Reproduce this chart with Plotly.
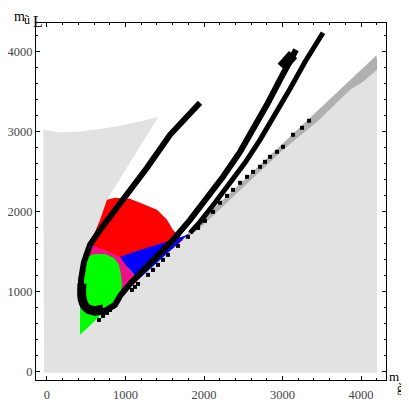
import plotly.graph_objects as go

# allowed region (light grey) outline, gluino mass vs left squark mass
gray_x = [-38, -47, 166, 420, 675, 930, 1185, 1418, 764, 586, 548, 446, 420, 420, 4191, 4204, 4204]
gray_y = [-12, 3021, 2988, 3000, 3030, 3071, 3125, 3180, 2146, 1684, 1584, 1421, 896, 459, 3946, 3946, -12]

# darker grey band along the diagonal edge
band_x = [1796, 4191, 4204, 4204, 4026, 3860, 3440, 3007, 1949, 1796]
band_y = [1734, 3946, 3896, 3771, 3621, 3521, 3121, 2771, 1796, 1696]

red_x = [764, 866, 1057, 1185, 1401, 1529, 1605, 1694, 1733, 1185, 548, 586, 675]
red_y = [2146, 2171, 2159, 2109, 2021, 1896, 1771, 1684, 1646, 1209, 1584, 1684, 1896]

pink_x = [497, 548, 739, 930, 1019, 1095, 1159, 879, 675, 471]
pink_y = [1496, 1584, 1521, 1434, 1309, 1234, 1146, 884, 1021, 1371]

blue_x = [930, 1185, 1401, 1605, 1783, 1822, 1159, 1095, 1019]
blue_y = [1434, 1521, 1584, 1646, 1709, 1734, 1146, 1234, 1309]

green_x = [446, 510, 611, 739, 854, 917, 943, 955, 930, 420, 420]
green_y = [1371, 1434, 1471, 1471, 1421, 1334, 1209, 1084, 934, 459, 896]

# black contours
u_x = [1949, 1758, 1567, 1274, 1057, 866, 675, 548, 471, 433, 433, 459, 522, 611, 739, 866, 930,
       1057, 1185, 1401, 1605, 1822, 2038, 2242, 2459, 2650, 2815, 2968, 3096, 3172]
u_y = [3359, 3171, 2959, 2546, 2271, 2021, 1771, 1584, 1371, 1146, 959, 834, 759, 734, 759, 834, 946,
       1096, 1221, 1434, 1646, 1896, 2159, 2434, 2746, 3059, 3359, 3646, 3871, 4021]
u_bottom_x = [445, 450, 500, 600, 720]
u_bottom_y = [1100, 900, 800, 765, 785]
blob_x = [2990, 3060, 3134]
blob_y = [3800, 3880, 3960]

l3_x = [1822, 1949, 2140, 2331, 2522, 2713, 2904, 3096, 3287, 3440, 3516]
l3_y = [1734, 1871, 2109, 2359, 2609, 2896, 3209, 3534, 3871, 4121, 4234]

dots_x = [662, 713, 764, 803, 841, 1083, 1121, 1159, 1287, 1350, 1414, 1478, 1541, 1669, 1796,
          1924, 2013, 2115, 2204, 2293, 2369, 2459, 2548, 2624, 2713, 2777, 2841, 2930, 3006,
          3134, 3248, 3338]
dots_y = [646, 696, 734, 771, 809, 1021, 1059, 1096, 1209, 1271, 1334, 1396, 1459, 1571, 1684,
          1796, 1884, 1996, 2110, 2196, 2271, 2359, 2434, 2496, 2559, 2621, 2684, 2746, 2809,
          2959, 3046, 3134]

fig = go.Figure()


def region(xs, ys, color):
    fig.add_trace(go.Scatter(x=xs, y=ys, fill='toself', fillcolor=color, mode='none',
                             hoverinfo='skip'))


region(gray_x, gray_y, '#e2e2e2')
region(band_x, band_y, '#b0b0b0')
region(red_x, red_y, '#ff0000')
region(pink_x, pink_y, '#f0108a')
region(blue_x, blue_y, '#0000ff')
region(green_x, green_y, '#00ff00')

fig.add_trace(go.Scatter(x=dots_x, y=dots_y, mode='markers',
                         marker=dict(symbol='square', size=4, color='black')))
fig.add_trace(go.Scatter(x=u_x, y=u_y, mode='lines', line=dict(color='black', width=6)))
fig.add_trace(go.Scatter(x=u_bottom_x, y=u_bottom_y, mode='lines',
                         line=dict(color='black', width=9, shape='spline')))
fig.add_trace(go.Scatter(x=blob_x, y=blob_y, mode='lines', line=dict(color='black', width=11)))
fig.add_trace(go.Scatter(x=l3_x, y=l3_y, mode='lines', line=dict(color='black', width=5)))

axis_common = dict(
    showgrid=False, zeroline=False, showline=True, linecolor='black', linewidth=1,
    mirror='ticks', ticks='inside', ticklen=4, tickcolor='black', automargin=False,
    tickvals=[0, 1000, 2000, 3000, 4000],
    minor=dict(dtick=200, ticks='inside', ticklen=2, tickcolor='black'),
    tickfont=dict(family='Liberation Serif', size=12.5, color='#444444'),
)
fig.update_xaxes(range=[-140, 4318], ticklabelstandoff=3, **axis_common)
fig.update_yaxes(range=[-104, 4355], ticklabelstandoff=0, **axis_common)

# the page adds an 8px body margin, so the figure is 8px smaller and margins shifted
L, T, W, H = 28, 15, 350, 357


def label(text, px, py, size):
    # position given in picture pixels, converted to paper units of the plot area
    fig.add_annotation(text=text, x=(px - 8 - L) / W, y=(T + H - (py - 8)) / H,
                       xref='paper', yref='paper', xanchor='left', yanchor='top',
                       showarrow=False, borderpad=0,
                       font=dict(family='Liberation Serif', size=size, color='black'))


label('m', 13, 8, 14)
label('ũ', 23, 12, 12)
label('L', 32, 12, 16)
label('m', 388, 368, 13)
label('g̃', 396, 380, 12)

fig.update_layout(
    width=401, height=401, showlegend=False,
    margin=dict(l=L, r=401 - L - W, t=T, b=401 - T - H),
    plot_bgcolor='white', paper_bgcolor='white',
)

fig.write_html("out.html")
